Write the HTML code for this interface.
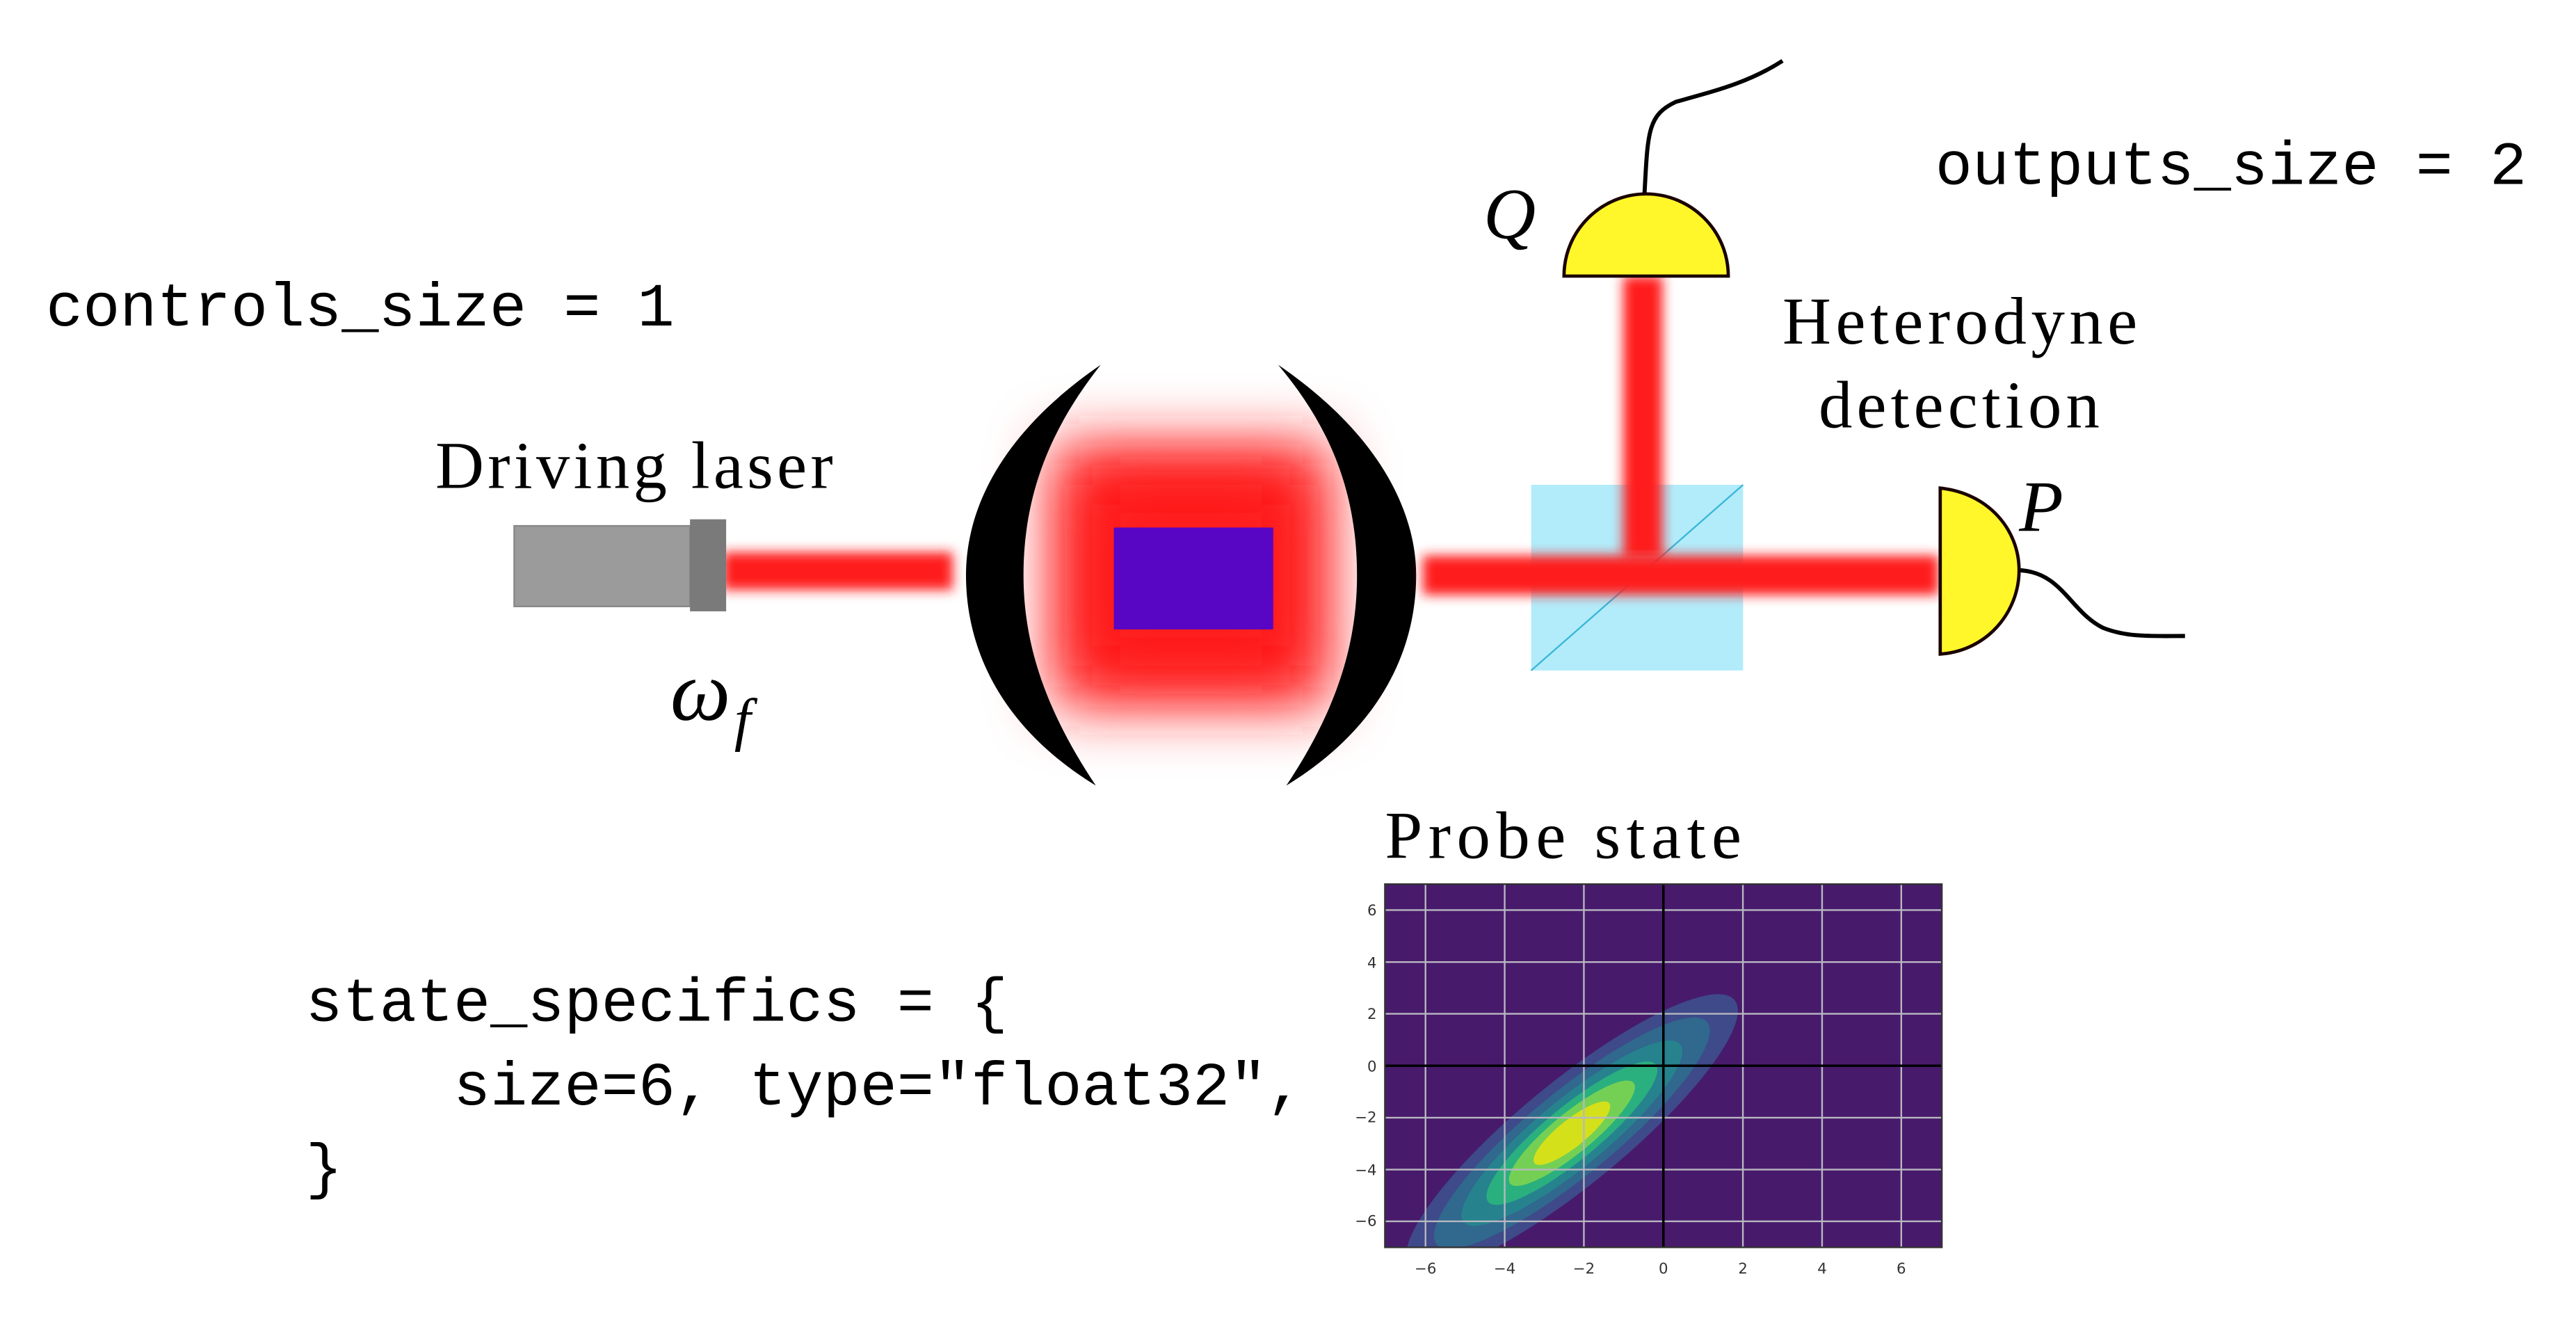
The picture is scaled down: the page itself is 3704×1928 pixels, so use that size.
<!DOCTYPE html>
<html><head><meta charset="utf-8"><style>
html,body{margin:0;padding:0;background:#fff;}
svg{display:block;}
</style></head><body>
<svg width="3704" height="1928" viewBox="0 0 1568 816" preserveAspectRatio="none" xmlns="http://www.w3.org/2000/svg">
<defs>
<filter id="b4" x="-20%" y="-100%" width="140%" height="300%"><feGaussianBlur stdDeviation="3.5"/></filter>
<filter id="b4v" x="-100%" y="-20%" width="300%" height="140%"><feGaussianBlur stdDeviation="3.5"/></filter>
<filter id="glow" x="-50%" y="-50%" width="200%" height="200%"><feGaussianBlur stdDeviation="18"/></filter>
<clipPath id="pc"><rect x="843" y="538" width="339" height="221"/></clipPath>
</defs>
<rect width="1568" height="816" fill="#fff"/>

<g font-family="'Liberation Mono', monospace" font-size="37.5" fill="#000">
<text x="28" y="198">controls_size = 1</text>
<text x="1178" y="112">outputs_size = 2</text>
<text x="186" y="621">state_specifics = {</text>
<text x="276" y="672">size=6, type="float32",</text>
<text x="186" y="722">}</text>
</g>
<g font-family="'Liberation Serif', serif" font-size="41" fill="#000">
<text x="265" y="297" textLength="242">Driving laser</text>
<text x="1085" y="209" textLength="216">Heterodyne</text>
<text x="1107" y="260" textLength="171">detection</text>
<text x="843" y="522" textLength="217">Probe state</text>
</g>
<g font-family="'Liberation Serif', serif" font-style="italic" fill="#000">
<text x="408" y="438" font-size="52">ω</text>
<text x="447" y="450" font-size="36">f</text>
<text x="903" y="145" font-size="44">Q</text>
<text x="1229" y="323" font-size="44">P</text>
</g>

<rect x="313" y="320" width="107" height="49" fill="#9b9b9b" stroke="#888" stroke-width="1"/>
<rect x="440" y="336" width="140" height="23" fill="#ff1a1a" filter="url(#b4)"/>
<rect x="420" y="316" width="22" height="56" fill="#7a7a7a"/>

<rect x="640" y="270" width="170" height="160" fill="#ff1a1a" filter="url(#glow)"/>
<rect x="665" y="295" width="120" height="110" fill="#ff1a1a" filter="url(#glow)"/>
<rect x="678" y="321" width="97" height="62" fill="#5805c4"/>

<path d="M670,222 C600,270 588,320 588,350 C588,390 605,440 667,478 C635,430 623,390 623,350 C623,300 640,260 670,222 Z" fill="#000"/>
<path d="M778,222 C848,270 862,320 862,350 C862,390 845,440 783,478 C815,430 826,390 826,350 C826,300 810,260 778,222 Z" fill="#000"/>

<rect x="932" y="295" width="129" height="113" fill="#b2ecfb"/>
<line x1="932" y1="408" x2="1061" y2="295" stroke="#3ab6d8" stroke-width="1"/>
<rect x="988" y="168" width="24" height="172" fill="#ff1a1a" filter="url(#b4v)"/>
<rect x="866" y="338" width="314" height="24" fill="#ff1a1a" filter="url(#b4)"/>

<path d="M1001,118 C1003,80 1003,70 1020,62 C1045,55 1065,50 1085,37" fill="none" stroke="#000" stroke-width="2.5"/>
<path d="M952,168 C952,140 975,118 1002,118 C1029,118 1052,140 1052,168 Z" fill="#fff72a" stroke="#1a0000" stroke-width="2"/>
<path d="M1229,347 C1255,348 1260,372 1280,382 C1295,388 1310,387 1330,387" fill="none" stroke="#000" stroke-width="2.5"/>
<path d="M1181,297 C1210,300 1229,322 1229,347 C1229,372 1210,396 1181,398 Z" fill="#fff72a" stroke="#1a0000" stroke-width="2"/>

<rect x="843" y="538" width="339" height="221" fill="#481a6c"/>
<g clip-path="url(#pc)">
<g transform="translate(1012.5,648.5) scale(24.21,-15.79)">
<g transform="translate(-2.3,-2.6) rotate(53)">
<ellipse rx="6.6" ry="1.6" fill="#3e4a89"/>
<ellipse rx="5.5" ry="1.3" fill="#31688e"/>
<ellipse rx="4.4" ry="1.05" fill="#26838e"/>
<ellipse rx="3.4" ry="0.82" fill="#2ab07f"/>
<ellipse rx="2.5" ry="0.62" fill="#74d055"/>
<ellipse rx="1.5" ry="0.42" fill="#d4e11a"/>
</g>
</g>
<g stroke="#b8b8c0" stroke-width="1">
<line x1="867.7" y1="538" x2="867.7" y2="759"/><line x1="915.9" y1="538" x2="915.9" y2="759"/><line x1="964.1" y1="538" x2="964.1" y2="759"/><line x1="1060.9" y1="538" x2="1060.9" y2="759"/><line x1="1109.1" y1="538" x2="1109.1" y2="759"/><line x1="1157.3" y1="538" x2="1157.3" y2="759"/>
<line x1="843" y1="553.8" x2="1182" y2="553.8"/><line x1="843" y1="585.4" x2="1182" y2="585.4"/><line x1="843" y1="616.9" x2="1182" y2="616.9"/><line x1="843" y1="680.1" x2="1182" y2="680.1"/><line x1="843" y1="711.7" x2="1182" y2="711.7"/><line x1="843" y1="743.2" x2="1182" y2="743.2"/>
</g>
<line x1="1012.5" y1="538" x2="1012.5" y2="759" stroke="#000" stroke-width="1.5"/>
<line x1="843" y1="648.5" x2="1182" y2="648.5" stroke="#000" stroke-width="1.5"/>
</g>
<rect x="843" y="538" width="339" height="221" fill="none" stroke="#333" stroke-width="1"/>
<g font-family="'DejaVu Sans', sans-serif" font-size="9" fill="#333" text-anchor="middle">
<text x="867.7" y="775">−6</text><text x="915.9" y="775">−4</text><text x="964.1" y="775">−2</text><text x="1012.5" y="775">0</text><text x="1060.9" y="775">2</text><text x="1109.1" y="775">4</text><text x="1157.3" y="775">6</text>
</g>
<g font-family="'DejaVu Sans', sans-serif" font-size="9" fill="#333" text-anchor="end">
<text x="838" y="557">6</text><text x="838" y="589">4</text><text x="838" y="620">2</text><text x="838" y="652">0</text><text x="838" y="683">−2</text><text x="838" y="715">−4</text><text x="838" y="746">−6</text>
</g>
</svg>
</body></html>
